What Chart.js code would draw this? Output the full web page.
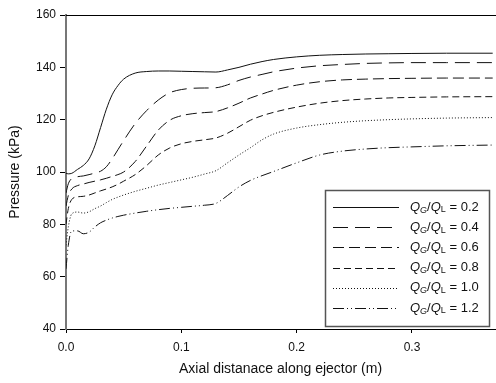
<!DOCTYPE html>
<html>
<head>
<meta charset="utf-8">
<script src="https://cdn.jsdelivr.net/npm/chart.js@4"></script>
<style>
  html, body { margin: 0; padding: 0; background: #fff; }
</style>
</head>
<body>
<canvas id="pressureChart" width="496" height="383"></canvas>
<script>
// Axial position along the ejector (m)
const axialDistance = [0, 0.002, 0.005, 0.01, 0.015, 0.02, 0.025, 0.03, 0.035, 0.04, 0.045, 0.05,
  0.06, 0.07, 0.08, 0.09, 0.1, 0.11, 0.12, 0.13, 0.14, 0.15, 0.16, 0.17, 0.18,
  0.2, 0.22, 0.24, 0.26, 0.28, 0.3, 0.33, 0.37];

// Pressure (kPa) for each gas/liquid flow ratio
const pressureRatio02 = [99.5, 99.3, 99.5, 101, 102.5, 105, 110, 117, 124, 129.5, 133, 135.5,
  137.8, 138.4, 138.6, 138.6, 138.5, 138.4, 138.3, 138.2, 139, 140, 141.2, 142.2, 143,
  144, 144.6, 144.9, 145.1, 145.2, 145.3, 145.4, 145.4];
const pressureRatio04 = [92, 95.5, 97.5, 98.2, 98.5, 99, 99.6, 100.3, 102, 105, 108.5, 112,
  118.5, 123.5, 127.5, 130.3, 131.5, 132, 132.1, 132.2, 133.3, 135, 136.3, 137.3, 138.3,
  139.7, 140.6, 141.1, 141.5, 141.7, 141.8, 141.8, 141.8];
const pressureRatio06 = [87, 91, 93.5, 94.8, 95.4, 96, 96.5, 97, 97.6, 98.3, 99, 100,
  104, 110, 116, 119.8, 121.5, 122.3, 122.7, 123.1, 124.5, 126.3, 128.3, 129.8, 131.2,
  133.2, 134.5, 135.2, 135.5, 135.7, 135.8, 135.9, 135.9];
const pressureRatio08 = [80, 86, 89.5, 90.5, 90.7, 91.2, 92, 92.8, 93.5, 94.3, 95.3, 96.5,
  99, 102.5, 106.5, 109.2, 110.8, 111.7, 112.3, 113, 114.8, 117.3, 119.8, 121.5, 122.8,
  124.8, 126.3, 127.3, 127.9, 128.3, 128.5, 128.7, 128.8];
const pressureRatio10 = [72, 79, 84, 84.7, 84.3, 84.8, 86, 87, 88.3, 89.5, 90.4, 91.2,
  92.6, 93.8, 95, 96, 97, 98, 99.2, 100.5, 103.5, 106.5, 109.3, 112.3, 114.5,
  116.8, 118.1, 119, 119.6, 120, 120.3, 120.6, 120.8];
const pressureRatio12 = [63, 72, 77.5, 77.5, 76.4, 77, 79, 80.6, 81.6, 82.4, 83, 83.5,
  84.3, 85, 85.6, 86.1, 86.5, 86.9, 87.3, 88, 91, 94.3, 96.8, 98.6, 100.2,
  103.5, 106.5, 108, 108.8, 109.3, 109.6, 110, 110.3];

const flowRatios = ['0.2', '0.4', '0.6', '0.8', '1.0', '1.2'];
const xTickValues = [0, 0.1, 0.2, 0.3];
const yTickValues = [40, 60, 80, 100, 120, 140, 160];

const FONT = "'Liberation Sans', Arial, sans-serif";
const dashes = [[], [15, 7], [11, 5], [7, 4], [1, 2], [11, 3, 1, 3, 1, 3]];
const seriesValues = [pressureRatio02, pressureRatio04, pressureRatio06, pressureRatio08, pressureRatio10, pressureRatio12];

const datasets = seriesValues.map(function (vals, i) {
  return {
    label: 'QG/QL = ' + flowRatios[i],
    ratio: flowRatios[i],
    data: vals.map(function (p, j) { return { x: axialDistance[j], y: p }; }),
    borderColor: '#111',
    borderWidth: 1,
    borderDash: dashes[i],
    pointRadius: 0,
    fill: false,
    cubicInterpolationMode: 'monotone'
  };
});

// top frame line + legend with subscripts
const framePlugin = {
  id: 'framePlugin',
  afterDraw: function (chart) {
    const ctx = chart.ctx;
    const area = chart.chartArea;
    ctx.save();
    ctx.strokeStyle = '#000';
    ctx.lineWidth = 1;
    ctx.beginPath();
    ctx.moveTo(area.left, Math.round(area.top) + 0.5);
    ctx.lineTo(chart.width, Math.round(area.top) + 0.5);
    ctx.stroke();

    // legend box
    const boxW = 164, boxH = 136;
    const bx = area.right - 6 - boxW, by = area.bottom - 3 - boxH;
    ctx.fillStyle = '#fff';
    ctx.fillRect(bx, by, boxW, boxH);
    ctx.strokeStyle = '#555';
    ctx.lineWidth = 1.5;
    ctx.strokeRect(bx + 0.5, by + 0.5, boxW, boxH);

    chart.data.datasets.forEach(function (ds, i) {
      const y = by + 17 + i * 20.2;
      ctx.strokeStyle = ds.borderColor;
      ctx.lineWidth = ds.borderWidth;
      ctx.setLineDash(ds.borderDash);
      ctx.beginPath();
      ctx.moveTo(bx + 8, Math.round(y) + 0.5);
      ctx.lineTo(bx + 74, Math.round(y) + 0.5);
      ctx.stroke();
      ctx.setLineDash([]);

      const parts = [
        { t: 'Q', f: 'italic 13px ' + FONT, dy: 0 },
        { t: 'G', f: 'italic 9px ' + FONT, dy: 3 },
        { t: '/', f: '13px ' + FONT, dy: 0 },
        { t: 'Q', f: 'italic 13px ' + FONT, dy: 0 },
        { t: 'L', f: '9px ' + FONT, dy: 3 },
        { t: ' = ' + ds.ratio, f: '13px ' + FONT, dy: 0 }
      ];
      let x = bx + 85;
      ctx.fillStyle = '#111';
      ctx.textBaseline = 'middle';
      ctx.textAlign = 'left';
      parts.forEach(function (p) {
        ctx.font = p.f;
        ctx.fillText(p.t, x, y + p.dy);
        x += ctx.measureText(p.t).width;
      });
    });
    ctx.restore();
  }
};

const ctx = document.getElementById('pressureChart').getContext('2d');
const pressureChart = new Chart(ctx, {
  type: 'line',
  data: { datasets: datasets },
  plugins: [framePlugin],
  options: {
    responsive: false,
    animation: false,
    devicePixelRatio: 1,
    layout: { padding: { top: 15, right: 1, left: 0, bottom: 0 } },
    plugins: {
      legend: { display: false },
      tooltip: { enabled: false }
    },
    scales: {
      x: {
        type: 'linear',
        min: 0,
        max: 0.372,
        afterBuildTicks: function (scale) { scale.ticks = xTickValues.map(function (v) { return { value: v }; }); },
        afterFit: function (scale) { scale.height = 54; },
        ticks: {
          callback: function (v) { return v.toFixed(1); },
          font: { family: FONT, size: 12 },
          color: '#111',
          padding: 7,
          maxRotation: 0
        },
        grid: { drawOnChartArea: false, drawTicks: true, tickLength: 4, tickColor: '#000' },
        border: { display: true, color: '#000', width: 1 },
        title: {
          display: true,
          text: 'Axial distanace along ejector (m)',
          font: { family: FONT, size: 14 },
          color: '#111',
          padding: { top: 0, bottom: 5 }
        }
      },
      y: {
        min: 40,
        max: 160,
        afterBuildTicks: function (scale) { scale.ticks = yTickValues.map(function (v) { return { value: v }; }); },
        afterFit: function (scale) { scale.width = 66; },
        ticks: {
          font: { family: FONT, size: 12 },
          color: '#111',
          padding: 4
        },
        grid: { drawOnChartArea: false, drawTicks: true, tickLength: 6, tickColor: '#000' },
        border: { display: true, color: '#777', width: 2 },
        title: {
          display: true,
          text: 'Pressure (kPa)',
          font: { family: FONT, size: 14 },
          color: '#111',
          padding: { top: 7, bottom: 0 }
        }
      }
    }
  }
});
</script>
</body>
</html>
